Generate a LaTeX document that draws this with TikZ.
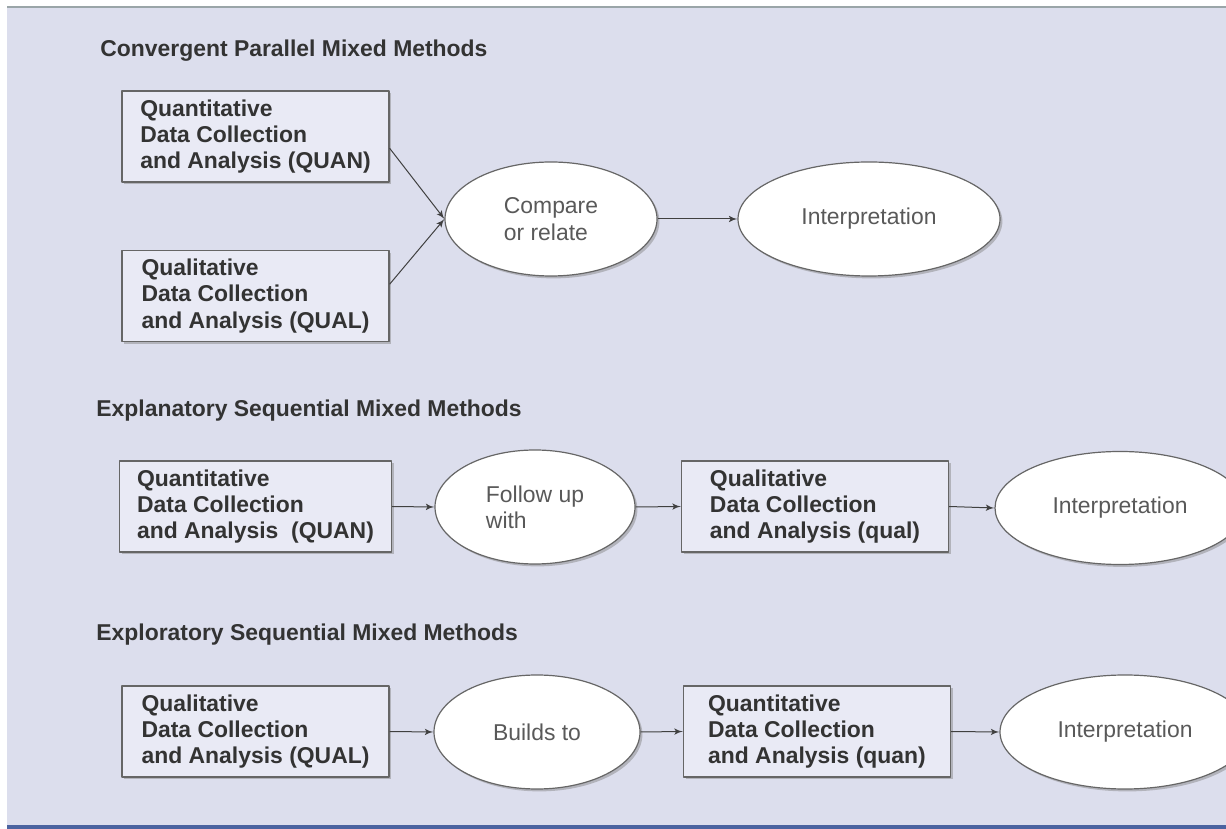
\documentclass[tikz,border=0pt]{standalone}
\usepackage{fontspec}
\setmainfont{Liberation Sans}
\usepackage[x11names, rgb]{xcolor}
\usepackage{tikz}
\usetikzlibrary{arrows,shapes,shadows}
\definecolor{bglav}{HTML}{DCDEED}
\definecolor{boxfill}{HTML}{E9EAF5}
\definecolor{barblue}{HTML}{4B63A0}
\definecolor{topline}{HTML}{9AA5A8}
\definecolor{edgegray}{HTML}{666666}
\definecolor{boxtext}{HTML}{333333}
\definecolor{ovaltext}{HTML}{595959}

\begin{document}
\begin{tikzpicture}[>=latex',join=bevel,font=\fontsize{11.5}{13.25}\selectfont]
\tikzstyle{method}=[anchor=base west,inner sep=0pt,font=\fontsize{11.5}{13.25}\selectfont\bfseries,text=boxtext]%
\tikzstyle{databox}=[draw=edgegray,fill=boxfill,line width=0.6bp,align=left,inner xsep=8.75bp,minimum width=133.5bp,minimum height=45.5bp,font=\fontsize{11.5}{13.25}\selectfont\bfseries,text=boxtext,drop shadow={shadow xshift=1.2bp,shadow yshift=-1.2bp,fill=gray,opacity=.45}]%
\tikzstyle{oval}=[ellipse,draw=edgegray,fill=white,line width=0.6bp,align=left,inner sep=0pt,text=ovaltext,drop shadow={shadow xshift=1.2bp,shadow yshift=-1.2bp,fill=gray,opacity=.45}]%
\tikzstyle{link}=[->,draw=black!75,line width=0.5bp]%
  \clip (0bp,0bp) rectangle (613bp,414.5bp);
  \fill [white] (0bp,0bp) rectangle (613bp,414.5bp);
  \fill [bglav] (3.5bp,2bp) rectangle (613bp,411bp);
  \draw [topline,line width=1bp] (3.5bp,411bp) -- (613bp,411bp);
  \fill [barblue] (3.5bp,0bp) rectangle (613bp,2bp);

  \node (convT) at (50bp,386bp) [method] {Convergent Parallel Mixed Methods};
  \node (explT) at (48bp,206bp) [method] {Explanatory Sequential Mixed Methods};
  \node (exprT) at (48bp,94bp) [method] {Exploratory Sequential Mixed Methods};

  \node (quanA) at (127.75bp,346.25bp) [databox] {Quantitative\\Data Collection\\and Analysis (QUAN)};
  \node (qualA) at (127.75bp,266.5bp) [databox] {Qualitative\\Data Collection\\and Analysis (QUAL)};
  \node (cmpA) at (275.5bp,305bp) [oval,minimum width=106bp,minimum height=57bp] {Compare\\or relate};
  \node (intA) at (434.5bp,305bp) [oval,minimum width=131bp,minimum height=57bp] {Interpretation};

  \node (quanB) at (127.75bp,161.25bp) [databox] {Quantitative\\Data Collection\\and Analysis~ (QUAN)};
  \node (follB) at (267.5bp,161bp) [oval,minimum width=100bp,minimum height=57bp] {Follow up\\with};
  \node (qualB) at (407.5bp,161.25bp) [databox] {Qualitative\\Data Collection\\and Analysis (qual)};
  \node (intB) at (560bp,160.5bp) [oval,minimum width=125bp,minimum height=56.5bp] {Interpretation};

  \node (qualC) at (127.75bp,48.75bp) [databox] {Qualitative\\Data Collection\\and Analysis (QUAL)};
  \node (bldC) at (268.5bp,48.5bp) [oval,minimum width=103bp,minimum height=57bp] {Builds to};
  \node (quanC) at (408.5bp,48.75bp) [databox] {Quantitative\\Data Collection\\and Analysis (quan)};
  \node (intC) at (562.5bp,48.5bp) [oval,minimum width=125bp,minimum height=57bp] {Interpretation};

  \draw [link] (quanA.-5) -- (cmpA.west);
  \draw [link] (qualA.5) -- (cmpA.west);
  \draw [link] (cmpA.east) -- (intA.west);
  \draw [link] (quanB.east) -- (follB.west);
  \draw [link] (follB.east) -- (qualB.west);
  \draw [link] (qualB.east) -- (intB.west);
  \draw [link] (qualC.east) -- (bldC.west);
  \draw [link] (bldC.east) -- (quanC.west);
  \draw [link] (quanC.east) -- (intC.west);
\end{tikzpicture}
\end{document}
